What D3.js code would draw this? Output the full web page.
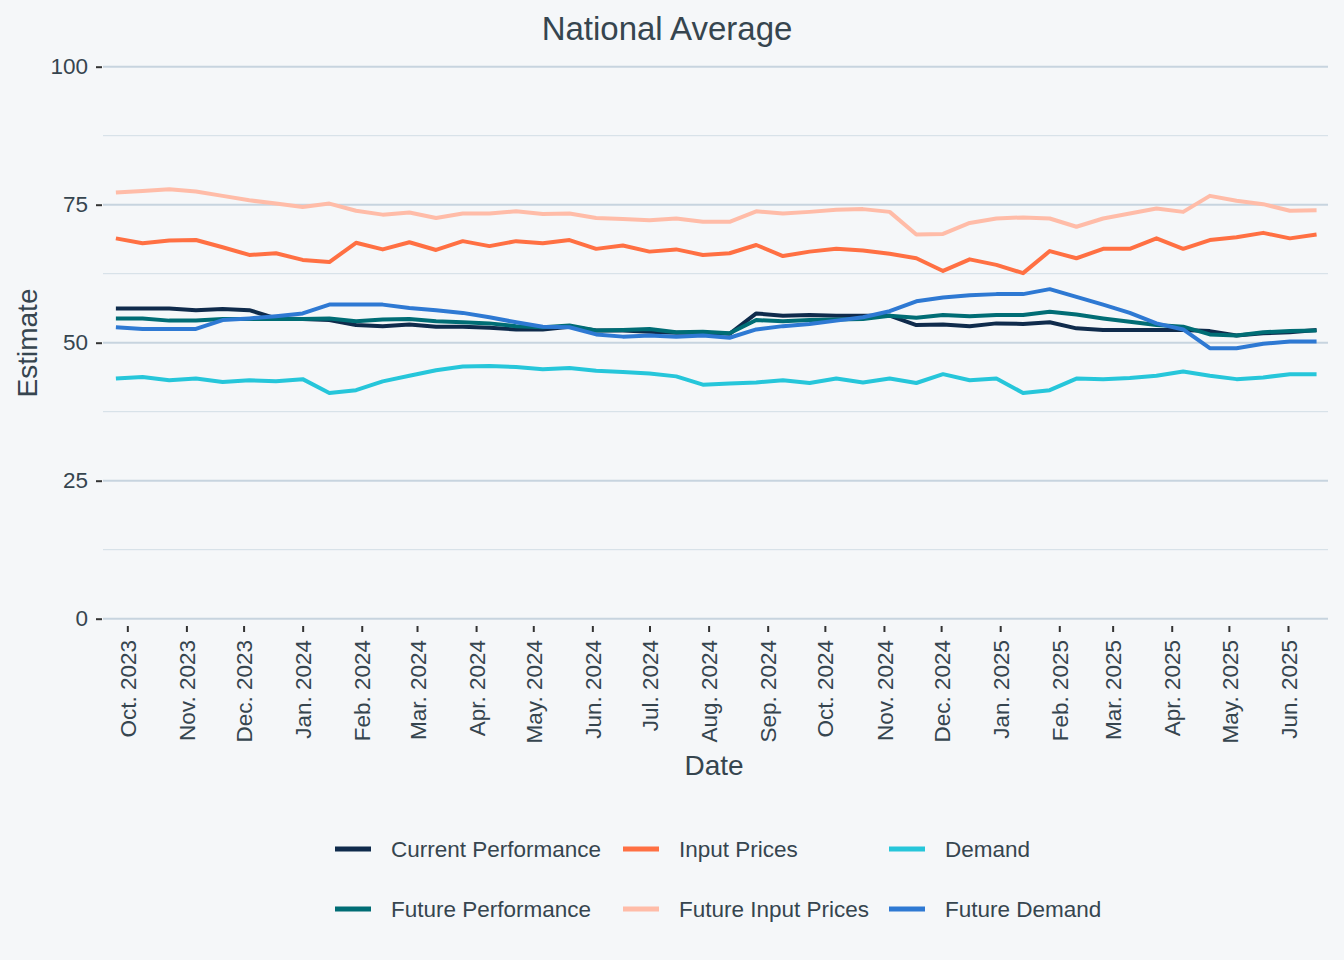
<!DOCTYPE html>
<html>
<head>
<meta charset="utf-8">
<script src="https://cdn.jsdelivr.net/npm/d3@7"></script>
<style>
  html, body { margin: 0; padding: 0; background: #F5F7F9; }
  svg { display: block; font-family: "Liberation Sans", Arial, sans-serif; }
</style>
</head>
<body>
<svg id="chart" width="1344" height="960"></svg>
<script>
const dates = [
  "2023-09-25","2023-10-09","2023-10-23","2023-11-06","2023-11-20","2023-12-04","2023-12-18",
  "2024-01-01","2024-01-15","2024-01-29","2024-02-12","2024-02-26","2024-03-11","2024-03-25",
  "2024-04-08","2024-04-22","2024-05-06","2024-05-20","2024-06-03","2024-06-17","2024-07-01",
  "2024-07-15","2024-07-29","2024-08-12","2024-08-26","2024-09-09","2024-09-23","2024-10-07",
  "2024-10-21","2024-11-04","2024-11-18","2024-12-02","2024-12-16","2024-12-30","2025-01-13",
  "2025-01-27","2025-02-10","2025-02-24","2025-03-10","2025-03-24","2025-04-07","2025-04-21",
  "2025-05-05","2025-05-19","2025-06-02","2025-06-16"
];

const currentPerformance = [56.2,56.2,56.2,55.9,56.1,55.9,54.4,54.3,54.1,53.2,53.0,53.3,52.9,52.9,52.7,52.4,52.4,52.9,52.2,52.2,52.0,51.8,51.8,51.6,55.3,54.9,55.0,54.9,54.9,54.9,53.2,53.3,53.0,53.5,53.4,53.7,52.6,52.3,52.3,52.3,52.3,52.1,51.3,51.7,51.9,52.3];
const inputPrices = [68.9,68.0,68.5,68.6,67.3,65.9,66.2,65.0,64.6,68.1,66.9,68.2,66.8,68.4,67.5,68.4,68.0,68.6,67.0,67.6,66.5,66.9,65.9,66.2,67.7,65.7,66.5,67.0,66.7,66.1,65.3,63.0,65.1,64.1,62.6,66.6,65.3,67.0,67.0,68.9,67.0,68.6,69.1,69.9,68.9,69.6];
const demand = [43.5,43.8,43.2,43.5,42.9,43.2,43.0,43.4,40.9,41.4,43.0,44.0,45.0,45.7,45.8,45.6,45.2,45.4,44.9,44.7,44.4,43.9,42.4,42.6,42.8,43.2,42.7,43.5,42.8,43.5,42.7,44.3,43.2,43.5,40.9,41.4,43.5,43.4,43.6,44.0,44.8,44.0,43.4,43.7,44.3,44.3];
const futurePerformance = [54.4,54.4,54.0,54.0,54.3,54.3,54.3,54.3,54.4,53.9,54.2,54.3,53.9,53.7,53.5,53.0,52.8,53.1,52.2,52.3,52.5,51.9,52.0,51.7,54.1,53.9,54.1,54.2,54.3,54.9,54.5,55.0,54.8,55.0,55.0,55.6,55.1,54.4,53.8,53.2,52.9,51.5,51.3,51.9,52.1,52.2];
const futureInputPrices = [77.2,77.5,77.8,77.4,76.6,75.8,75.2,74.6,75.2,73.9,73.2,73.6,72.6,73.4,73.4,73.8,73.3,73.4,72.6,72.4,72.2,72.5,71.9,71.9,73.8,73.4,73.7,74.1,74.2,73.7,69.6,69.7,71.7,72.5,72.7,72.5,71.0,72.5,73.4,74.3,73.7,76.6,75.7,75.1,73.9,74.0];
const futureDemand = [52.8,52.5,52.5,52.5,54.1,54.4,54.8,55.3,56.9,56.9,56.9,56.3,55.9,55.4,54.6,53.7,52.9,52.8,51.5,51.1,51.3,51.1,51.3,50.9,52.4,53.0,53.4,54.0,54.6,55.7,57.5,58.2,58.6,58.8,58.8,59.7,58.3,56.9,55.4,53.5,52.4,49.0,49.0,49.8,50.2,50.2];

const seriesNames = ["Current Performance","Input Prices","Demand","Future Performance","Future Input Prices","Future Demand"];
const seriesColors = ["#0F2B4C","#FF7043","#26C6DA","#006D75","#FFBCA8","#2E79D3"];
const seriesValues = [currentPerformance, inputPrices, demand, futurePerformance, futureInputPrices, futureDemand];

const yTicks = [0, 25, 50, 75, 100];
const yMinor = [12.5, 37.5, 62.5, 87.5];
const xTickDates = [
  "2023-10-01","2023-11-01","2023-12-01","2024-01-01","2024-02-01","2024-03-01","2024-04-01",
  "2024-05-01","2024-06-01","2024-07-01","2024-08-01","2024-09-01","2024-10-01","2024-11-01",
  "2024-12-01","2025-01-01","2025-02-01","2025-03-01","2025-04-01","2025-05-01","2025-06-01"
];

const parse = d3.utcParse("%Y-%m-%d");
const svg = d3.select("#chart");
const textColor = "#36454F";

svg.append("rect").attr("width", 1344).attr("height", 960).attr("fill", "#F5F7F9");

const plotLeft = 103, plotRight = 1328;
const x = d3.scaleUtc()
  .domain([new Date(Date.UTC(2023, 8, 20, 8)), new Date(Date.UTC(2025, 5, 22))])
  .range([107, 1328]);
const y = d3.scaleLinear().domain([0, 100]).range([618.7, 66.7]);

// gridlines
const grid = svg.append("g");
grid.selectAll("line.minor").data(yMinor).join("line")
  .attr("class", "minor")
  .attr("x1", plotLeft).attr("x2", plotRight)
  .attr("y1", d => y(d)).attr("y2", d => y(d))
  .attr("stroke", "#D2DDE6").attr("stroke-width", 1);
grid.selectAll("line.major").data(yTicks).join("line")
  .attr("class", "major")
  .attr("x1", plotLeft).attr("x2", plotRight)
  .attr("y1", d => y(d)).attr("y2", d => y(d))
  .attr("stroke", "#C7D4DF").attr("stroke-width", 2);

// y axis
const yAxis = svg.append("g").attr("transform", "translate(102,0)")
  .call(d3.axisLeft(y).tickValues(yTicks).tickSize(6).tickPadding(8));
yAxis.select(".domain").remove();
yAxis.selectAll(".tick line").attr("stroke", "#333").attr("stroke-width", 2);
yAxis.selectAll(".tick text").attr("fill", textColor).attr("font-size", 22.5)
  .attr("font-family", "Liberation Sans, Arial, sans-serif");

// x axis
const xAxis = svg.append("g").attr("transform", "translate(0,626)")
  .call(d3.axisBottom(x).tickValues(xTickDates.map(parse)).tickSize(6)
    .tickFormat(d3.utcFormat("%b. %Y")));
xAxis.select(".domain").remove();
xAxis.selectAll(".tick line").attr("stroke", "#333").attr("stroke-width", 2);
xAxis.selectAll(".tick text")
  .attr("fill", textColor).attr("font-size", 22.5)
  .attr("font-family", "Liberation Sans, Arial, sans-serif")
  .attr("text-anchor", "end")
  .attr("transform", "rotate(-90)")
  .attr("x", -14).attr("y", 0).attr("dy", "0.36em");

// lines
const line = d3.line()
  .x((d, i) => x(parse(dates[i])))
  .y(d => y(d));
svg.append("g").selectAll("path").data(seriesValues).join("path")
  .attr("d", d => line(d))
  .attr("fill", "none")
  .attr("stroke", (d, i) => seriesColors[i])
  .attr("stroke-width", 4)
  .attr("stroke-linejoin", "round");

// title
svg.append("text").attr("x", 667).attr("y", 40).attr("text-anchor", "middle")
  .attr("font-size", 33).attr("fill", textColor).text("National Average");

// axis titles
svg.append("text").attr("x", 714).attr("y", 775).attr("text-anchor", "middle")
  .attr("font-size", 28).attr("fill", textColor).text("Date");
svg.append("text").attr("transform", "translate(37,343) rotate(-90)").attr("text-anchor", "middle")
  .attr("font-size", 28).attr("fill", textColor).text("Estimate");

// legend
const legendCols = [335, 623, 889];
const legendRows = [849, 909];
const legend = svg.append("g");
seriesNames.forEach((name, i) => {
  const cx = legendCols[i % 3];
  const cy = legendRows[Math.floor(i / 3)];
  legend.append("line")
    .attr("x1", cx).attr("x2", cx + 36).attr("y1", cy).attr("y2", cy)
    .attr("stroke", seriesColors[i]).attr("stroke-width", 5);
  legend.append("text").attr("x", cx + 56).attr("y", cy).attr("dy", "0.36em")
    .attr("font-size", 22.5).attr("fill", textColor).text(name);
});
</script>
</body>
</html>
